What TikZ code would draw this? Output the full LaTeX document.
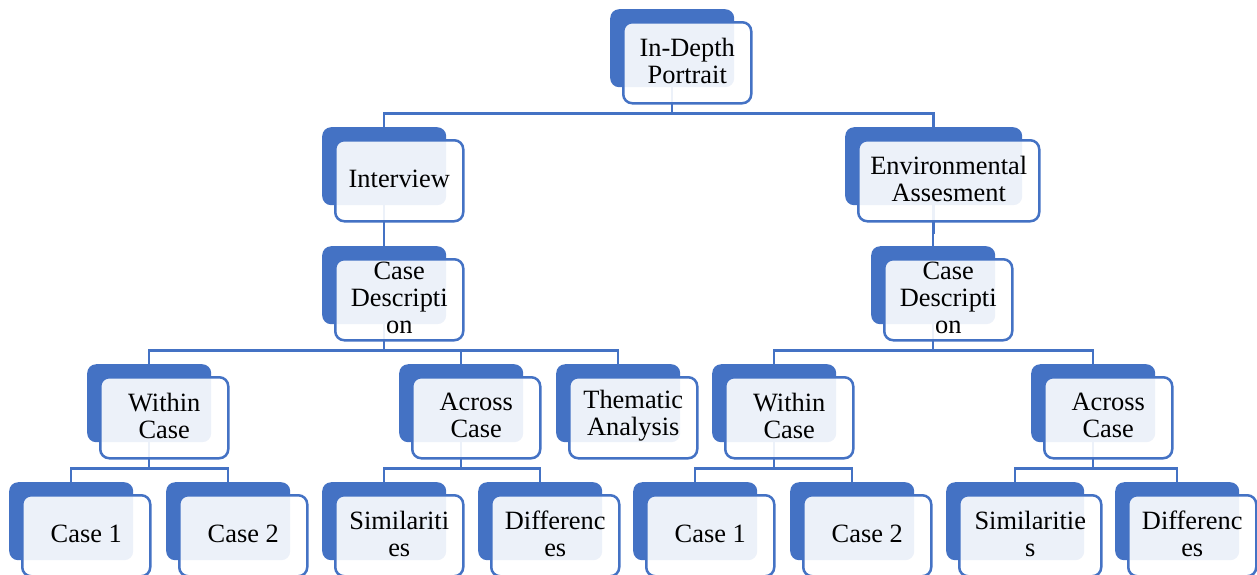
\documentclass[tikz,border=0pt]{standalone}
\usepackage{fontspec}
\setmainfont{Liberation Serif}
\usetikzlibrary{backgrounds,calc}
\definecolor{accent}{HTML}{4472C4}
\tikzset{
  backbox/.style={fill=accent, draw=none, rounded corners=9pt, minimum height=78pt, inner sep=0pt, anchor=north west},
  frontbox/.style={fill=white, fill opacity=0.9, draw=accent, draw opacity=1, line width=2.5pt,
    rounded corners=9pt, minimum height=81pt, inner sep=0pt, anchor=north west},
  boxtext/.style={inner sep=0pt, align=center, font=\fontsize{26.4}{26.7}\selectfont},
  link/.style={draw=accent, line width=2.5pt},
}
\newcommand\pairbox[5]{%
  \node[backbox, minimum width=#4pt] (#1) at (#2,#3) {};
  \node[frontbox, minimum width=#4pt+4pt] (#1f) at ($(#1.north west)+(12,12)$) {};
  \node[boxtext] (#1t) at ([yshift=2pt]#1f.center) {#5};
}
\newcommand\linkto[2]{%
  \draw[link] (#1.south) |- ([yshift=13.5pt]#2.north) -- (#2.north);
}
\begin{document}
\begin{tikzpicture}[x=1pt,y=-1pt]
\useasboundingbox (0,0) rectangle (1257,574);
\pairbox{top}{610}{9}{124}{In-Depth\\Portrait}
\pairbox{int}{322}{127}{124}{Interview}
\pairbox{env}{845}{127}{177}{Environmental\\Assesment}
\pairbox{cdl}{322}{246}{124}{Case\\Descripti\\on}
\pairbox{cdr}{871}{246}{124}{Case\\Descripti\\on}
\pairbox{wcl}{87}{364}{124}{Within\\Case}
\pairbox{acl}{399}{364}{124}{Across\\Case}
\pairbox{ta}{556}{364}{124}{Thematic\\Analysis}
\pairbox{wcr}{712}{364}{124}{Within\\Case}
\pairbox{acr}{1031}{364}{124}{Across\\Case}
\pairbox{cal}{9}{482}{124}{Case 1}
\pairbox{cbl}{166}{482}{124}{Case 2}
\pairbox{siml}{322}{482}{124}{Similariti\\es}
\pairbox{difl}{478}{482}{124}{Differenc\\es}
\pairbox{car}{633}{482}{124}{Case 1}
\pairbox{cbr}{790}{482}{124}{Case 2}
\pairbox{simr}{946}{482}{138}{Similaritie\\s}
\pairbox{difr}{1115}{482}{124}{Differenc\\es}
\begin{pgfonlayer}{background}
\linkto{top}{int}
\linkto{top}{env}
\linkto{int}{cdl}
\linkto{env}{cdr}
\linkto{cdl}{wcl}
\linkto{cdl}{acl}
\linkto{cdl}{ta}
\linkto{cdr}{wcr}
\linkto{cdr}{acr}
\linkto{wcl}{cal}
\linkto{wcl}{cbl}
\linkto{acl}{siml}
\linkto{acl}{difl}
\linkto{wcr}{car}
\linkto{wcr}{cbr}
\linkto{acr}{simr}
\linkto{acr}{difr}
\end{pgfonlayer}
\end{tikzpicture}
\end{document}
